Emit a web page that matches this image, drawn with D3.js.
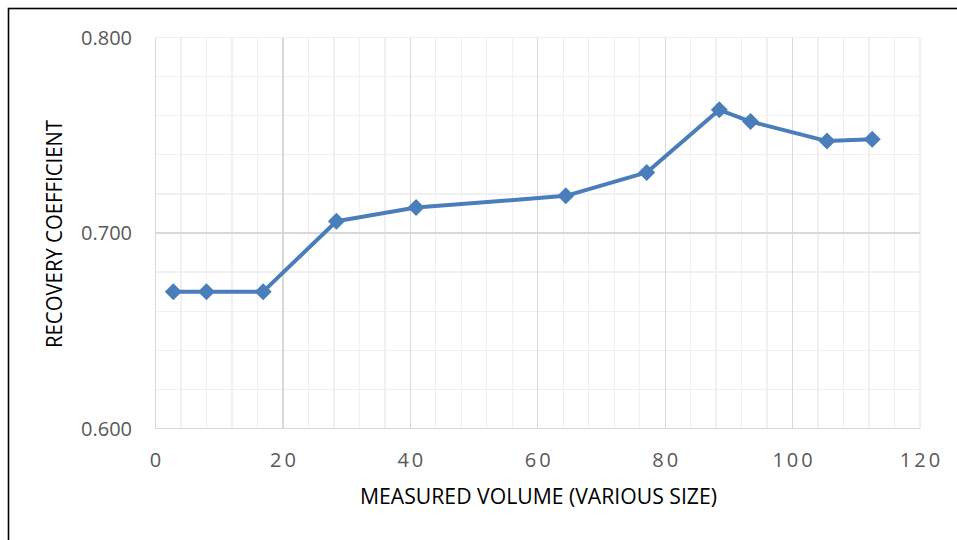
<!DOCTYPE html>
<html>
<head>
<meta charset="utf-8">
<script src="https://cdn.jsdelivr.net/npm/d3@7"></script>
<style>
    html, body { margin: 0; padding: 0; background: #FFF; }
    svg { display: block; }
    .tick-label { font-family: "Open Sans", sans-serif; font-size: 20px; fill: #595959; }
    .axis-title { font-family: "Open Sans", sans-serif; font-size: 21px; fill: #000; }
</style>
</head>
<body>
<div id="chart"></div>
<script>
"use strict"

// Measured volume (various size) vs. recovery coefficient
const volume = [2.8, 8.0, 16.9, 28.4, 40.9, 64.4, 77.1, 88.5, 93.4, 105.4, 112.5]
const recovery = [0.670, 0.670, 0.670, 0.706, 0.713, 0.719, 0.731, 0.763, 0.757, 0.747, 0.748]

const xTicks = [0, 20, 40, 60, 80, 100, 120]
const yTicks = [0.6, 0.7, 0.8]
const xTitle = "MEASURED VOLUME (VARIOUS SIZE)"
const yTitle = "RECOVERY COEFFICIENT"

const size = { width: 957, height: 540 }
const plot = { left: 155.5, right: 920, top: 37.5, bottom: 428.5 }
const color = { line: "#4A7EBB", major: "#D9D9D9", minor: "#F0F0F0" }

const x = d3.scaleLinear().domain([0, 120]).range([plot.left, plot.right])
const y = d3.scaleLinear().domain([0.6, 0.8]).range([plot.bottom, plot.top])

const svg = d3.select("#chart")
    .append("svg")
    .attr("width", size.width)
    .attr("height", size.height)

svg.append("rect")
    .attr("width", size.width)
    .attr("height", size.height)
    .attr("fill", "#FFF")

// outer frame, only left and top edges are inside the picture
svg.append("rect")
    .attr("x", 8.5)
    .attr("y", 8.5)
    .attr("width", size.width + 20)
    .attr("height", size.height + 20)
    .attr("fill", "none")
    .attr("stroke", "#000")
    .attr("stroke-width", 1.6)

const grid = svg.append("g").attr("shape-rendering", "crispEdges")

// minor gridlines: every 4 on x, every 0.02 on y
const xMinor = d3.range(0, 121, 4).filter(v => v % 20 !== 0 || v === 120)
const yMinor = d3.range(0, 11).map(i => 0.6 + i * 0.02)
    .filter(v => Math.abs(v - 0.7) > 1e-6 && Math.abs(v - 0.6) > 1e-6)

grid.selectAll(".x-minor")
    .data(xMinor)
    .enter()
    .append("line")
    .attr("x1", d => x(d)).attr("x2", d => x(d))
    .attr("y1", plot.top).attr("y2", plot.bottom)
    .attr("stroke", color.minor)
    .attr("stroke-width", 1.3)
grid.selectAll(".y-minor")
    .data(yMinor)
    .enter()
    .append("line")
    .attr("x1", plot.left).attr("x2", plot.right)
    .attr("y1", d => y(d)).attr("y2", d => y(d))
    .attr("stroke", color.minor)
    .attr("stroke-width", 1.3)

// major gridlines
grid.selectAll(".x-major")
    .data(xTicks.filter(v => v < 120))
    .enter()
    .append("line")
    .attr("x1", d => x(d)).attr("x2", d => x(d))
    .attr("y1", plot.top).attr("y2", plot.bottom)
    .attr("stroke", color.major)
    .attr("stroke-width", 1.3)
grid.selectAll(".y-major")
    .data(yTicks.filter(v => v < 0.8))
    .enter()
    .append("line")
    .attr("x1", plot.left).attr("x2", plot.right)
    .attr("y1", d => y(d)).attr("y2", d => y(d))
    .attr("stroke", color.major)
    .attr("stroke-width", 1.6)

// tick labels
svg.selectAll(".x-label")
    .data(xTicks)
    .enter()
    .append("text")
    .classed("tick-label", true)
    .attr("x", d => x(d) + 1.5)
    .attr("y", 467)
    .attr("text-anchor", "middle")
    .style("letter-spacing", "3px")
    .text(d => d)
svg.selectAll(".y-label")
    .data(yTicks)
    .enter()
    .append("text")
    .classed("tick-label", true)
    .attr("x", 132)
    .attr("y", d => y(d) + 7)
    .attr("text-anchor", "end")
    .text(d => d3.format(".3f")(d))

// axis titles
svg.append("text")
    .classed("axis-title", true)
    .attr("x", 538.5)
    .attr("y", 504)
    .attr("text-anchor", "middle")
    .attr("textLength", 357)
    .attr("lengthAdjust", "spacingAndGlyphs")
    .text(xTitle)
svg.append("text")
    .classed("axis-title", true)
    .attr("transform", "translate(62, 234) rotate(-90)")
    .attr("text-anchor", "middle")
    .attr("textLength", 228)
    .attr("lengthAdjust", "spacingAndGlyphs")
    .text(yTitle)

// series
const points = volume.map((v, i) => ({ x: v, y: recovery[i] }))

svg.append("path")
    .datum(points)
    .attr("fill", "none")
    .attr("stroke", color.line)
    .attr("stroke-width", 4)
    .attr("stroke-linejoin", "round")
    .attr("d", d3.line().x(d => x(d.x)).y(d => y(d.y)))

const r = 8.5
svg.selectAll(".marker")
    .data(points)
    .enter()
    .append("path")
    .attr("fill", color.line)
    .attr("transform", d => `translate(${x(d.x)}, ${y(d.y)})`)
    .attr("d", `M0,${-r}L${r},0L0,${r}L${-r},0Z`)
</script>
</body>
</html>
